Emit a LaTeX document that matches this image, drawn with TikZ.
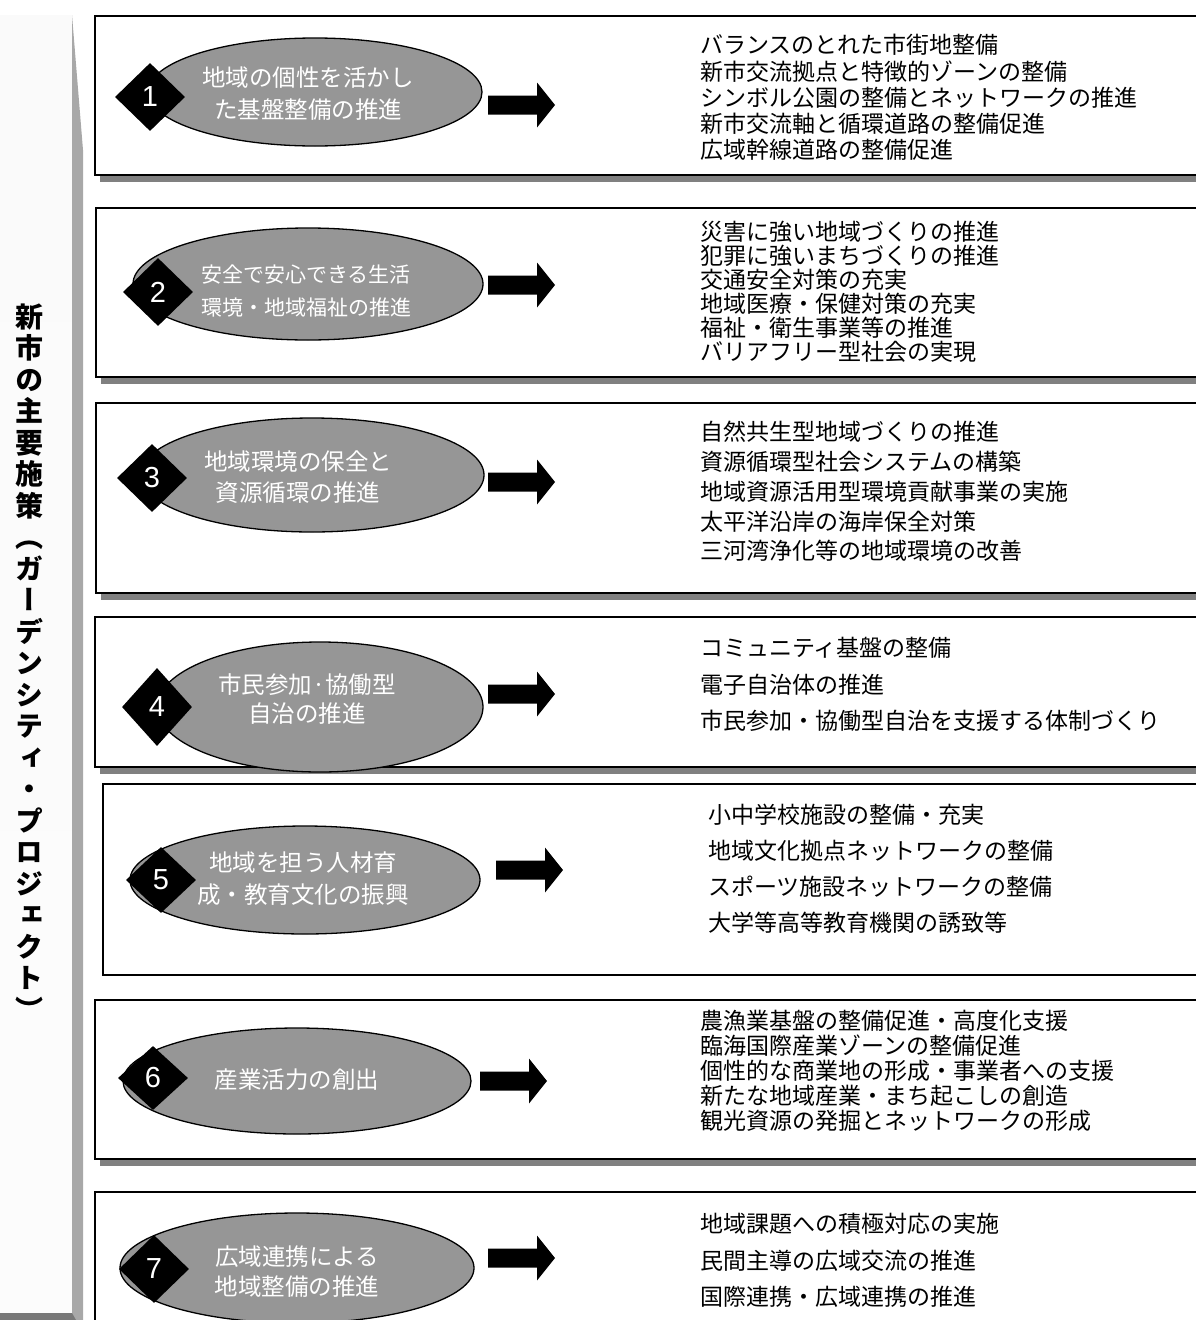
\documentclass[tikz,border=0pt]{standalone}
\usepackage{fontspec}
\setmainfont{Noto Sans CJK JP}
\newfontfamily\vjp[RawFeature=+vert]{Noto Sans CJK JP}
\newfontfamily\numfont{Liberation Sans}
\usetikzlibrary{shapes.geometric}
\tikzset{
  box/.style={draw=black, line width=1.8pt, fill=white},
  boxshadow/.style={fill=black!50},
  pill/.style={ellipse, draw=black, line width=1.3pt, fill=black!41, inner sep=0pt},
  numbox/.style={diamond, fill=black, text=white, inner sep=0pt, minimum width=70pt, minimum height=68pt, font=\numfont\fontsize{29}{29}\selectfont},
  ptext/.style={text=white, align=center, inner sep=0pt, font=\fontsize{23.5}{32}\selectfont},
  itemtext/.style={anchor=west, align=left, text=black, inner sep=0pt},
  bigarrow/.pic={\fill[black] (0,-9.5) -- (49,-9.5) -- (49,-22.5) -- (67,0) -- (49,22.5) -- (49,9.5) -- (0,9.5) -- cycle;}
}
\begin{document}
\begin{tikzpicture}[x=1pt,y=-1pt]
\useasboundingbox (0,0) rectangle (1196,1320);
\clip (0,0) rectangle (1196,1320);
% sidebar
\shade[top color=black!2, middle color=black!21, bottom color=black!1] (0,15) rectangle (72,1313);
\fill[black!34] (72,15) -- (83,150) -- (83,1320) -- (72,1320) -- cycle;
\fill[black!53] (0,1313) -- (72,1313) -- (76,1320) -- (0,1320) -- cycle;
\node[align=center, inner sep=0pt, font=\vjp\bfseries\fontsize{28}{31.5}\selectfont] (side) at (30,662)
 {新\\市\\の\\主\\要\\施\\策\\（\\ガ\\ー\\デ\\ン\\シ\\テ\\ィ\\・\\プ\\ロ\\ジ\\ェ\\ク\\ト\\）};
% boxes with shadow
\foreach \x/\ya/\yb in {95/16/175, 96/208/377, 96/403/593, 95/617/767, 95/1000/1159, 95/1192/1340}{
  \fill[boxshadow] (\x+5,\ya+6) rectangle (1215,\yb+7);
  \draw[box] (\x,\ya) rectangle (1215,\yb);
}
% box without shadow
\draw[box] (103,784) rectangle (1215,975);
% ellipses
\node[pill, minimum width=334pt, minimum height=108pt] (e1) at (315,92) {};
\node[pill, minimum width=350pt, minimum height=112pt] (e2) at (308,284) {};
\node[pill, minimum width=344pt, minimum height=114pt] (e3) at (312,475) {};
\node[pill, minimum width=326pt, minimum height=130pt] (e4) at (320,707) {};
\node[pill, minimum width=350pt, minimum height=108pt] (e5) at (305,880) {};
\node[pill, minimum width=348pt, minimum height=106pt] (e6) at (297,1081) {};
\node[pill, minimum width=354pt, minimum height=110pt] (e7) at (297,1268) {};
% diamonds
\node[numbox] (d1) at (150,97) {1};
\node[numbox] (d2) at (158,292) {2};
\node[numbox] (d3) at (152,478) {3};
\node[numbox, minimum height=78pt] (d4) at (157,707) {4};
\node[numbox, minimum height=66pt] (d5) at (161,880) {5};
\node[numbox, minimum height=64pt] (d6) at (153,1078) {6};
\node[numbox] (d7) at (154,1269) {7};
% ellipse texts
\node[ptext] (t1) at (308,94) {地域の個性を活かし\\た基盤整備の推進};
\node[ptext, font=\fontsize{21}{33}\selectfont] (t2) at (306,291) {安全で安心できる生活\\環境・地域福祉の推進};
\node[ptext, font=\fontsize{23.5}{31}\selectfont] (t3) at (298,477) {地域環境の保全と\\資源循環の推進};
\node[ptext, font=\fontsize{23.5}{29}\selectfont] (t4) at (307,699) {市民参加·協働型\\自治の推進};
\node[ptext] (t5) at (303,879) {地域を担う人材育\\成・教育文化の振興};
\node[ptext] (t6) at (297,1080) {産業活力の創出};
\node[ptext, font=\fontsize{23.5}{30}\selectfont] (t7) at (297,1272) {広域連携による\\地域整備の推進};
% arrows
\pic at (488,105) {bigarrow};
\pic at (488,285) {bigarrow};
\pic at (488,482) {bigarrow};
\pic at (488,694) {bigarrow};
\pic at (496,870) {bigarrow};
\pic at (480,1081) {bigarrow};
\pic at (488,1258) {bigarrow};
% item texts
\node[itemtext, font=\fontsize{23}{26.2}\selectfont] (r1) at (700,97.5) {バランスのとれた市街地整備\\新市交流拠点と特徴的ゾーンの整備\\シンボル公園の整備とネットワークの推進\\新市交流軸と循環道路の整備促進\\広域幹線道路の整備促進};
\node[itemtext, font=\fontsize{23}{24}\selectfont] (r2) at (700,292) {災害に強い地域づくりの推進\\犯罪に強いまちづくりの推進\\交通安全対策の充実\\地域医療・保健対策の充実\\福祉・衛生事業等の推進\\バリアフリー型社会の実現};
\node[itemtext, font=\fontsize{23}{29.8}\selectfont] (r3) at (700,491.5) {自然共生型地域づくりの推進\\資源循環型社会システムの構築\\地域資源活用型環境貢献事業の実施\\太平洋沿岸の海岸保全対策\\三河湾浄化等の地域環境の改善};
\node[itemtext, font=\fontsize{23}{36.5}\selectfont] (r4) at (700,684.5) {コミュニティ基盤の整備\\電子自治体の推進\\市民参加・協働型自治を支援する体制づくり};
\node[itemtext, font=\fontsize{23}{36}\selectfont] (r5) at (708,869) {小中学校施設の整備・充実\\地域文化拠点ネットワークの整備\\スポーツ施設ネットワークの整備\\大学等高等教育機関の誘致等};
\node[itemtext, font=\fontsize{23}{25}\selectfont] (r6) at (700,1071) {農漁業基盤の整備促進・高度化支援\\臨海国際産業ゾーンの整備促進\\個性的な商業地の形成・事業者への支援\\新たな地域産業・まち起こしの創造\\観光資源の発掘とネットワークの形成};
\node[itemtext, font=\fontsize{23}{36.5}\selectfont] (r7) at (700,1260.5) {地域課題への積極対応の実施\\民間主導の広域交流の推進\\国際連携・広域連携の推進};
\end{tikzpicture}
\end{document}
